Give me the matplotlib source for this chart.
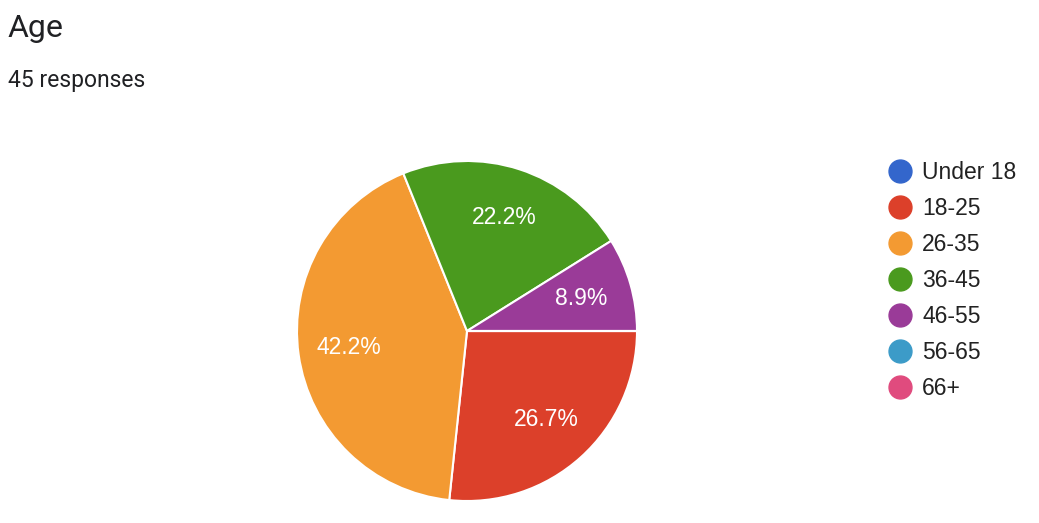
import matplotlib.pyplot as plt
from matplotlib.lines import Line2D

# data
labels = ['Under 18', '18-25', '26-35', '36-45', '46-55', '56-65', '66+']
counts = [0, 12, 19, 10, 4, 0, 0]
colors = ['#3366cc', '#dc402a', '#f39a32', '#4a9a1e', '#9a3b98', '#3c9bc8', '#e04b7e']
n_responses = 45

W, H = 1039, 523
fig = plt.figure(figsize=(W / 100, H / 100), dpi=100)

# pie centred at (467, 331) px, radius 170 px
cx, cy, r = 467, 331, 170
ax = fig.add_axes([(cx - r) / W, (H - cy - r) / H, 2 * r / W, 2 * r / H])

def pct(p):
    return '%.1f%%' % p if p > 0 else ''

wedges, texts, autotexts = ax.pie(
    counts, colors=colors, startangle=0, counterclock=False,
    autopct=pct, pctdistance=0.7,
    wedgeprops=dict(edgecolor='white', linewidth=1.5),
    textprops=dict(color='white', fontsize=16.5, family='Liberation Sans'))
ax.set_xlim(-1, 1)
ax.set_ylim(-1, 1)

fig.text(8 / W, 1 - 37 / H, 'Age', fontsize=23, family='Roboto',
         color='#202124', va='baseline')
fig.text(8 / W, 1 - 87 / H, '%d responses' % n_responses, fontsize=16.5,
         family='Roboto', color='#202124', va='baseline')

handles = [Line2D([], [], marker='o', linestyle='none', markersize=16.5,
                  markerfacecolor=c, markeredgecolor=c) for c in colors]
leg = fig.legend(handles, labels, loc='upper left',
                 bbox_to_anchor=(889 / W, 1 - 161 / H), frameon=False,
                 prop=dict(family='Liberation Sans', size=16.5),
                 handlelength=1.0, handletextpad=0.45, labelspacing=0.57,
                 borderaxespad=0, borderpad=0)
for t in leg.get_texts():
    t.set_color('#222222')

fig.savefig('out.png', dpi=100)
